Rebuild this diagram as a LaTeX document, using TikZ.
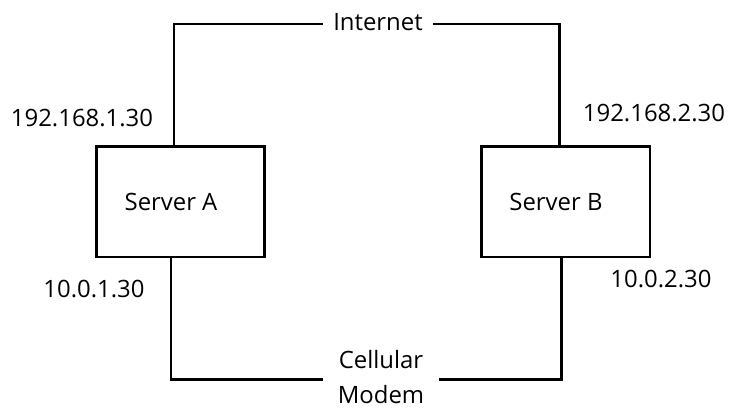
\documentclass[tikz,border=0pt]{standalone}
\usepackage{fontspec}
\setmainfont{Open Sans}
\begin{document}
\begin{tikzpicture}[x=0.02cm,y=-0.02cm,font=\fontsize{13.6pt}{19.5pt}\selectfont]
\fill[white] (0,0) rectangle (729,409);
\useasboundingbox (0,0) rectangle (729,409);
\node[draw, line width=1.7pt, minimum width=3.38cm, minimum height=2.22cm] (srvA) at (180.5,201.5) {};
\node[draw, line width=1.7pt, minimum width=3.38cm, minimum height=2.22cm] (srvB) at (565.5,201.5) {};
\node (nameA) at ([xshift=-0.19cm]srvA.center) {Server A};
\node (nameB) at ([xshift=-0.19cm]srvB.center) {Server B};
\node[inner xsep=0.19cm, inner ysep=2pt] (inet) at (378,22) {Internet};
\node[align=center, inner xsep=0.3cm] (modem) at (381,377) {Cellular\\Modem};
\node (ipA1) at (82,118) {192.168.1.30};
\node (ipB1) at (654,113) {192.168.2.30};
\node (ipA2) at (94,289) {10.0.1.30};
\node (ipB2) at (661,279) {10.0.2.30};
\coordinate (tl) at (174,24);
\coordinate (tr) at (559,24);
\coordinate (bl) at (171,379);
\coordinate (br) at (561,379);
\draw[line width=1.7pt] (srvA.north -| tl) -- (tl) -- (inet.west |- tl);
\draw[line width=1.7pt] (srvB.north -| tr) -- (tr) -- (inet.east |- tr);
\draw[line width=1.7pt] (srvA.south -| bl) -- (bl) -- (modem.west |- bl);
\draw[line width=1.7pt] (srvB.south -| br) -- (br) -- (modem.east |- br);
\end{tikzpicture}
\end{document}
